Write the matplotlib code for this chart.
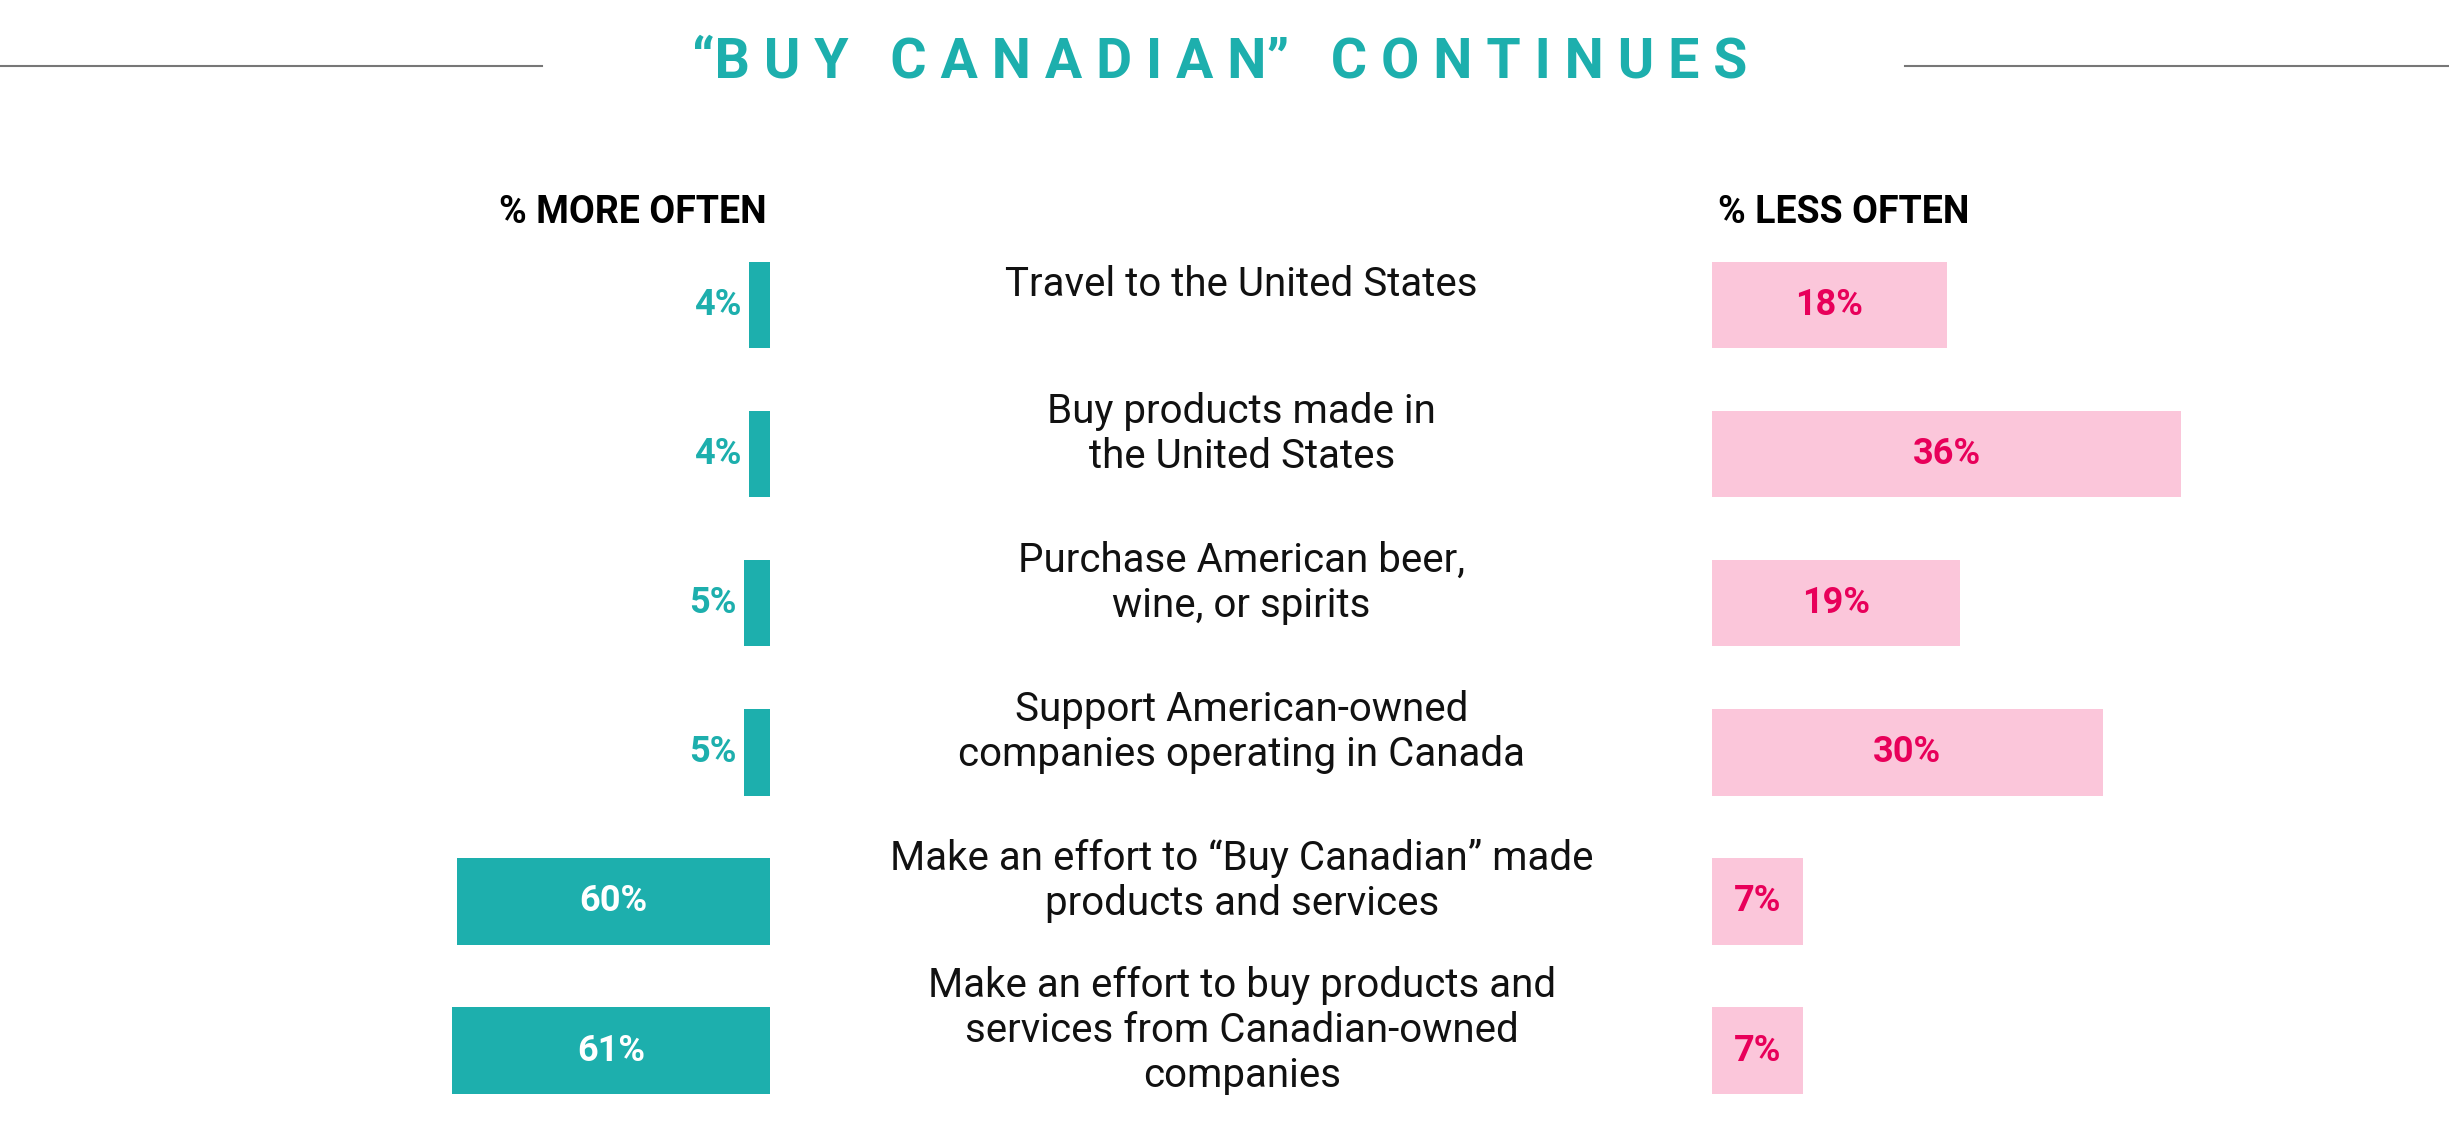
import matplotlib.pyplot as plt

plt.rcParams['font.family'] = ['Roboto', 'DejaVu Sans']

categories = [
    "Travel to the United States",
    "Buy products made in\nthe United States",
    "Purchase American beer,\nwine, or spirits",
    "Support American-owned\ncompanies operating in Canada",
    "Make an effort to \u201cBuy Canadian\u201d made\nproducts and services",
    "Make an effort to buy products and\nservices from Canadian-owned\ncompanies",
]
more_often = [4, 4, 5, 5, 60, 61]
less_often = [18, 36, 19, 30, 7, 7]

TEAL = '#1DAFAD'
PINK = '#FBC6DA'
PINK_TXT = '#E8005A'
W, H = 1568.0, 730.0  # layout reference units

def fx(x):
    return x / W

def fy(y):
    return 1 - y / H

fig = plt.figure(figsize=(24.49, 11.40), dpi=100)

top, bottom = 147.5, 720.5
n = len(categories)
rows = list(range(n))

# left axes: more often (grows leftwards)
axl = fig.add_axes([0, fy(bottom), fx(493), (bottom - top) / H])
axl.barh(rows, more_often, height=0.58, color=TEAL)
axl.set_xlim(493 / 3.34, 0)
axl.set_ylim(n - 0.5, -0.5)
axl.axis('off')
for i, v in enumerate(more_often):
    if v > 15:
        axl.text(v / 2, i, f"{v}%", ha='center', va='center', color='white',
                 fontsize=26, fontweight='bold')
    else:
        axl.text(v + 1.5, i, f"{v}%", ha='right', va='center', color=TEAL,
                 fontsize=26, fontweight='bold')

# right axes: less often
axr = fig.add_axes([fx(1096), fy(bottom), 1 - fx(1096), (bottom - top) / H])
axr.barh(rows, less_often, height=0.58, color=PINK)
axr.set_xlim(0, (W - 1096) / 8.35)
axr.set_ylim(n - 0.5, -0.5)
axr.axis('off')
for i, v in enumerate(less_often):
    axr.text(v / 2, i, f"{v}%", ha='center', va='center', color=PINK_TXT,
             fontsize=26, fontweight='bold')

# category labels in the middle
for i, c in enumerate(categories):
    yc = top + (i + 0.5) * (bottom - top) / n - 13
    fig.text(fx(795), fy(yc), c, ha='center', va='center', fontsize=29,
             color='#111111', linespacing=1.2)

# headers
fig.text(fx(491), fy(136), "% MORE OFTEN", ha='right', va='center',
         fontsize=27, fontweight='bold', color='black')
fig.text(fx(1100), fy(136), "% LESS OFTEN", ha='left', va='center',
         fontsize=27, fontweight='bold', color='black')

# title with rules
fig.text(fx(781), fy(40), "\u201cB U Y   C A N A D I A N\u201d   C O N T I N U E S",
         ha='center', va='center', fontsize=40, fontweight='bold', color=TEAL)
fig.add_artist(plt.Line2D([0, fx(347)], [fy(42)] * 2, color='#777777', lw=1.5))
fig.add_artist(plt.Line2D([fx(1220), 1], [fy(42)] * 2, color='#777777', lw=1.5))

fig.savefig('out.png', dpi=100, facecolor='white')
